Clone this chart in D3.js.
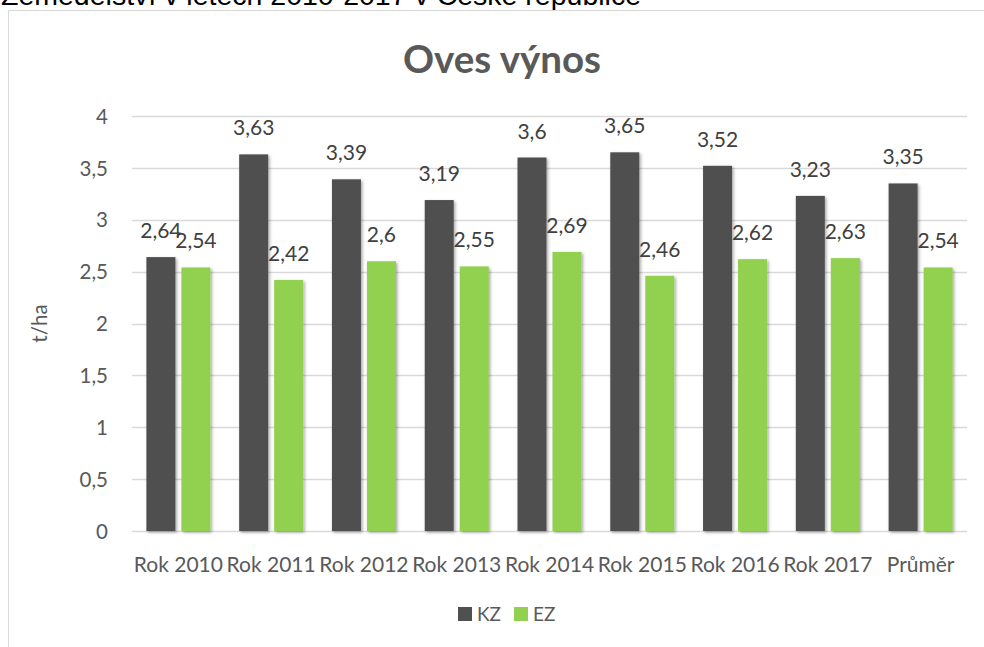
<!DOCTYPE html>
<html>
<head>
<meta charset="utf-8">
<script src="https://cdn.jsdelivr.net/npm/d3@7"></script>
<style>
  html, body { margin: 0; padding: 0; background: #fff; }
  svg { display: block; }
</style>
</head>
<body>
<svg id="chart" width="984" height="647"></svg>
<script>
// Oat yield (t/ha): conventional (KZ) vs. organic (EZ) farming
const categories = ["Rok 2010", "Rok 2011", "Rok 2012", "Rok 2013", "Rok 2014", "Rok 2015", "Rok 2016", "Rok 2017", "Průměr"];
const seriesNames = ["KZ", "EZ"];
const kzValues = [2.64, 3.63, 3.39, 3.19, 3.6, 3.65, 3.52, 3.23, 3.35];
const ezValues = [2.54, 2.42, 2.6, 2.55, 2.69, 2.46, 2.62, 2.63, 2.54];
const yTicks = [0, 0.5, 1, 1.5, 2, 2.5, 3, 3.5, 4];
const seriesColors = ["#505050", "#92d050"];

const fmt = v => String(v).replace(".", ",");
const font = "Lato, 'Open Sans', sans-serif";
const textColor = "#595959";

const svg = d3.select("#chart");

// shadow under bars
const defs = svg.append("defs");
const f = defs.append("filter").attr("id", "barShadow")
  .attr("x", "-30%").attr("y", "-5%").attr("width", "160%").attr("height", "115%");
f.append("feDropShadow").attr("dx", 1.5).attr("dy", 1.5)
  .attr("stdDeviation", 1.6).attr("flood-color", "#000").attr("flood-opacity", 0.35);

// heading of the surrounding document, running above the page edge
svg.append("text")
  .attr("x", 1).attr("y", 5)
  .attr("font-family", "Arial, 'Liberation Sans', sans-serif")
  .attr("font-size", 28.5)
  .attr("fill", "#000")
  .text("Zemědělství v letech 2010-2017 v České republice");

// chart frame
svg.append("path")
  .attr("d", "M8.5,647 V10.5 H984")
  .attr("fill", "none").attr("stroke", "#d9d9d9").attr("stroke-width", 1);

// title
svg.append("text")
  .attr("x", 502).attr("y", 73)
  .attr("text-anchor", "middle")
  .attr("font-family", font).attr("font-weight", "bold")
  .attr("font-size", 38.5).attr("fill", textColor)
  .text("Oves výnos");

const plot = { left: 132, right: 967, top: 116, bottom: 531 };

const x0 = d3.scaleBand().domain(categories)
  .range([plot.left, plot.right]).paddingInner(0).paddingOuter(0);
const y = d3.scaleLinear().domain([0, 4]).range([plot.bottom, plot.top]);

const barW = 29, barGap = 6;
const x1 = d3.scaleOrdinal().domain(seriesNames)
  .range([-(barW + barGap / 2), barGap / 2]);

// gridlines
svg.append("g")
  .selectAll("line").data(yTicks).join("line")
  .attr("x1", plot.left).attr("x2", plot.right)
  .attr("y1", d => Math.round(y(d)) + 0.5).attr("y2", d => Math.round(y(d)) + 0.5)
  .attr("stroke", "#d9d9d9").attr("stroke-width", 1.3);

// y axis labels
const yAxis = d3.axisLeft(y).tickValues(yTicks).tickSize(0).tickPadding(0).tickFormat(fmt);
const gy = svg.append("g").attr("transform", `translate(${plot.left - 24},0)`).call(yAxis);
gy.select(".domain").remove();
gy.selectAll("text").attr("font-family", font).attr("font-size", 20.5).attr("fill", textColor).attr("dy", "0.35em");

// y axis title
svg.append("text")
  .attr("transform", `translate(47,${(plot.top + plot.bottom) / 2}) rotate(-90)`)
  .attr("text-anchor", "middle")
  .attr("font-family", font).attr("font-size", 20.5).attr("fill", textColor)
  .text("t/ha");

// x axis labels
const xAxis = d3.axisBottom(x0).tickSize(0).tickPadding(0);
const gx = svg.append("g").attr("transform", `translate(0,${plot.bottom + 41})`).call(xAxis);
gx.select(".domain").remove();
gx.selectAll("text").attr("font-family", font).attr("font-size", 21).attr("fill", textColor).attr("dy", 0);

// bars
const rows = categories.map((c, i) => ({ cat: c, values: [kzValues[i], ezValues[i]] }));
const groups = svg.append("g").selectAll("g").data(rows).join("g")
  .attr("transform", d => `translate(${x0(d.cat) + x0.bandwidth() / 2},0)`);

groups.selectAll("rect").data(d => d.values.map((v, j) => ({ key: seriesNames[j], v, j })))
  .join("rect")
  .attr("x", d => x1(d.key)).attr("width", barW)
  .attr("y", d => y(d.v)).attr("height", d => y(0) - y(d.v))
  .attr("fill", d => seriesColors[d.j])
  .attr("filter", "url(#barShadow)");

// value labels
groups.selectAll("text.val").data(d => d.values.map((v, j) => ({ key: seriesNames[j], v, j })))
  .join("text").attr("class", "val")
  .attr("x", d => x1(d.key) + barW / 2)
  .attr("y", d => y(d.v) - 19)
  .attr("text-anchor", "middle")
  .attr("font-family", font).attr("font-size", 21).attr("fill", "#404040")
  .text(d => fmt(d.v));

// legend
const legend = svg.append("g").attr("transform", "translate(458,607)");
const li = legend.selectAll("g").data(seriesNames).join("g")
  .attr("transform", (d, i) => `translate(${i * 56},0)`);
li.append("rect").attr("width", 14).attr("height", 14).attr("fill", (d, i) => seriesColors[i]);
li.append("text").attr("x", 19).attr("y", 14)
  .attr("font-family", font).attr("font-size", 19).attr("fill", textColor)
  .text(d => d);
</script>
</body>
</html>
